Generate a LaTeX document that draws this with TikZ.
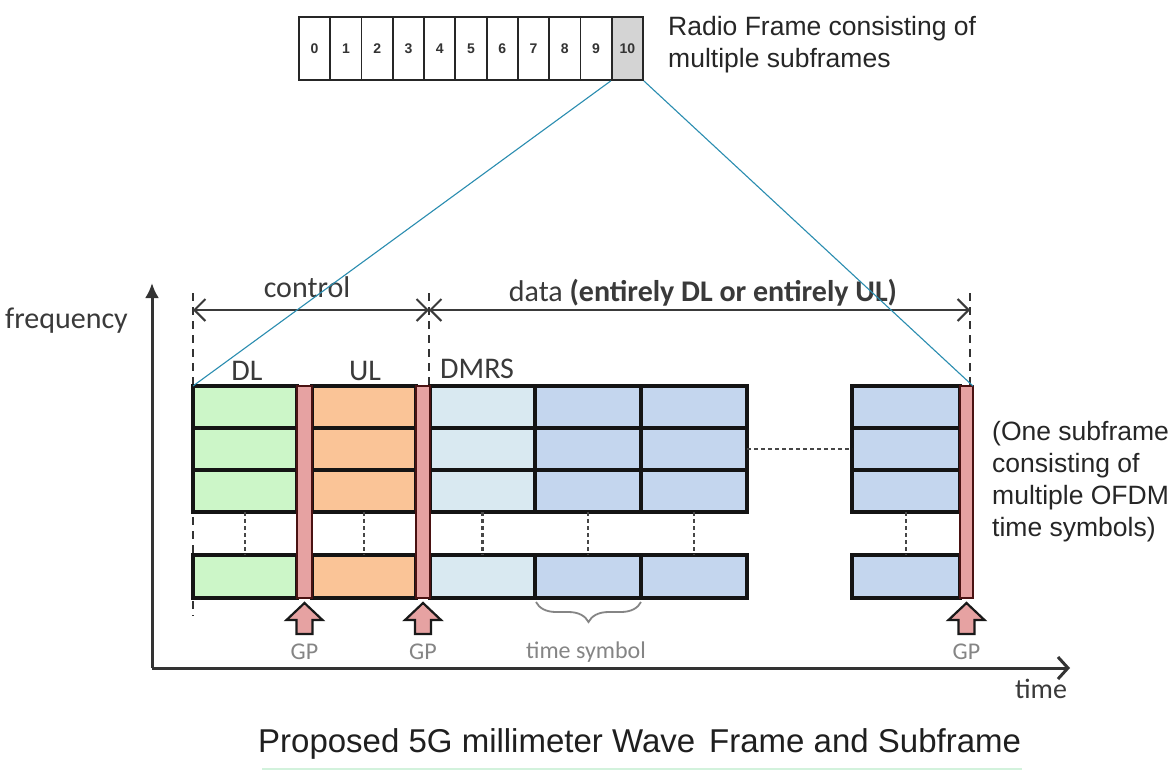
\documentclass[tikz,border=0pt]{standalone}
\usepackage{fontspec}
\setmainfont{Liberation Sans}
\newfontfamily\calfont{Carlito}
\usetikzlibrary{arrows.meta,decorations.pathreplacing,calc}

\definecolor{dlgreen}{HTML}{CCF6C8}
\definecolor{ulorange}{HTML}{FAC497}
\definecolor{dmrsblue}{HTML}{D9E9F1}
\definecolor{datablue}{HTML}{C4D6EE}
\definecolor{gpfill}{HTML}{E6A2A2}
\definecolor{gpedge}{HTML}{4A1212}
\definecolor{zoomline}{HTML}{2A8DB0}
\definecolor{labelgray}{HTML}{3A3A3A}
\definecolor{softgray}{HTML}{858585}
\definecolor{cellgray}{HTML}{D4D4D4}
\definecolor{capline}{HTML}{D2F2DC}

\begin{document}
\begin{tikzpicture}[x=1pt,y=-1pt,
  framecell/.style={draw=black!85, line width=1.8pt, minimum width=31.27pt,
    minimum height=63pt, inner sep=0pt, font=\fontsize{14}{16}\selectfont\bfseries, text=black!80},
  arialtext/.style={inner sep=0pt, text=black!85, font=\fontsize{26.5}{30}\selectfont},
  labeltext/.style={inner sep=0pt, text=labelgray, font=\calfont\fontsize{30}{36}\selectfont},
  smalllabel/.style={inner sep=0pt, text=softgray, font=\calfont\fontsize{24}{28}\selectfont},
  cellbox/.style={draw=black!92, line width=3.4pt, inner sep=0pt, outer sep=0pt},
  gpbar/.style={draw=gpedge, fill=gpfill, line width=2.2pt, inner sep=0pt, outer sep=0pt},
  gparrow/.style={draw=black!90, fill=gpfill, line width=2.2pt, line join=miter},
  axisline/.style={draw=black!80, line width=3pt},
  guide/.style={draw=black!80, line width=2pt, dash pattern=on 8pt off 6pt},
  dimline/.style={draw=labelgray, line width=2pt,
    {Straight Barb[length=11pt,width=22pt]}-{Straight Barb[length=11pt,width=22pt]}},
  gapdots/.style={draw=black!72, line width=2.6pt, dash pattern=on 4pt off 3pt},
  zoomref/.style={draw=zoomline, line width=1.1pt},
  bracket/.style={draw=softgray, line width=1.8pt, decorate,
    decoration={brace, amplitude=20pt, mirror}}
]
\fill[white] (0,0) rectangle (1176,772);
\useasboundingbox (0,0) rectangle (1176,772);

% ---- radio frame with its subframes ----
\foreach \i in {0,...,10}{
  \pgfmathsetmacro\cx{299+31.27*\i+15.635}
  \ifnum\i=10 \def\cf{cellgray}\else\def\cf{white}\fi
  \node[framecell, fill=\cf] (f\i) at (\cx,48.5) {\i};
}
\node[arialtext, anchor=base west] (rf1) at (668,35) {Radio Frame consisting of};
\node[arialtext, anchor=base west] (rf2) at (668,67) {multiple subframes};

% ---- axes ----
\coordinate (origin) at (152,668);
\coordinate (ftip) at (152,283);
\coordinate (ttip) at (1070,668);
\draw[axisline, -{Latex[length=15pt,width=14pt]}] (origin) -- (ftip);
\draw[axisline, -{Straight Barb[length=10pt,width=22pt]}] (origin) -- (ttip);
\node[labeltext, anchor=base east] (freq) at (128,328) {frequency};
\node[labeltext, anchor=base, font=\calfont\fontsize{28}{32}\selectfont] (tlab) at (1041,698) {time};

% ---- guides and span arrows ----
\coordinate (gA1) at (193,293); \coordinate (gA2) at (193,616);
\coordinate (gB1) at (429,293); \coordinate (gB2) at (429,386);
\coordinate (gC1) at (970,293); \coordinate (gC2) at (970,386);
\draw[guide] (gA1) -- (gA2);
\draw[guide] (gB1) -- (gB2);
\draw[guide] (gC1) -- (gC2);
\coordinate (dA) at (193,310);
\coordinate (dB) at (429,310);
\coordinate (dC) at (970,310);
\draw[dimline] (dA) -- (dB);
\draw[dimline] (dB) -- (dC);
\node[labeltext, anchor=base] (ctl) at (307,297) {control};
\node[labeltext, anchor=base] (dat) at (703,301) {data \textbf{(entirely DL or entirely UL)}};
\node[labeltext, anchor=base] (dll) at (247,380) {DL};
\node[labeltext, anchor=base] (ull) at (365,380) {UL};
\node[labeltext, anchor=base west] (dml) at (440,378) {DMRS};

% ---- OFDM symbol grid ----
\foreach \c/\xa/\xb/\col in {DL/193/297/dlgreen, UL/312/416/ulorange, DM/430/535/dmrsblue,
                             B/535/641/datablue, C/641/747/datablue, R/852/960/datablue}{
  \foreach \r/\ya/\yb in {1/386/428, 2/428/470, 3/470/512, 4/555/598}{
    \node[cellbox, fill=\col, minimum width={\xb-\xa}, minimum height={\yb-\ya}]
      (\c\r) at ({(\xa+\xb)/2},{(\ya+\yb)/2}) {};
  }
  \draw[gapdots] (\c3.south) -- (\c4.north);
}
\draw[gapdots] (C2.east) -- (R2.west);

% ---- guard periods ----
\foreach \g/\xa/\xb in {1/297/312, 2/416/430, 3/960/973}{
  \node[gpbar, minimum width={\xb-\xa}, minimum height=212] (GP\g) at ({(\xa+\xb)/2},492) {};
  \draw[gparrow] ($(GP\g.south)+(0,5)$) -- ++(18,17) -- ++(-10,0) -- ++(0,14)
    -- ++(-16,0) -- ++(0,-14) -- ++(-10,0) -- cycle;
  \node[smalllabel] (gpl\g) at ($(GP\g.south)+(0,54)$) {GP};
}

% ---- one time symbol ----
\draw[bracket] ($(B4.south west)+(1,4)$) -- ($(B4.south east)+(0,4)$);
\node[smalllabel] (tsym) at ($(B4.south)+(-2,54)$) {time symbol};

% ---- subframe note ----
\node[arialtext, anchor=base west] (n1) at (992,440) {(One subframe};
\node[arialtext, anchor=base west] (n2) at (992,472) {consisting of};
\node[arialtext, anchor=base west] (n3) at (992,504) {multiple OFDM};
\node[arialtext, anchor=base west] (n4) at (992,536) {time symbols)};

% ---- zoom from subframe 10 ----
\draw[zoomref] (f10.south west) -- (DL1.north west);
\draw[zoomref] (f10.south east) -- (GP3.north east);

% ---- caption ----
\node[inner sep=0pt, anchor=base west, text=black!88, font=\fontsize{33}{38}\selectfont]
  (cap) at (258,752) {Proposed 5G millimeter Wave\hspace{14pt}Frame and Subframe};
\coordinate (ulA) at (262,769);
\coordinate (ulB) at (1022,769);
\draw[capline, line width=2pt] (ulA) -- (ulB);
\end{tikzpicture}
\end{document}
